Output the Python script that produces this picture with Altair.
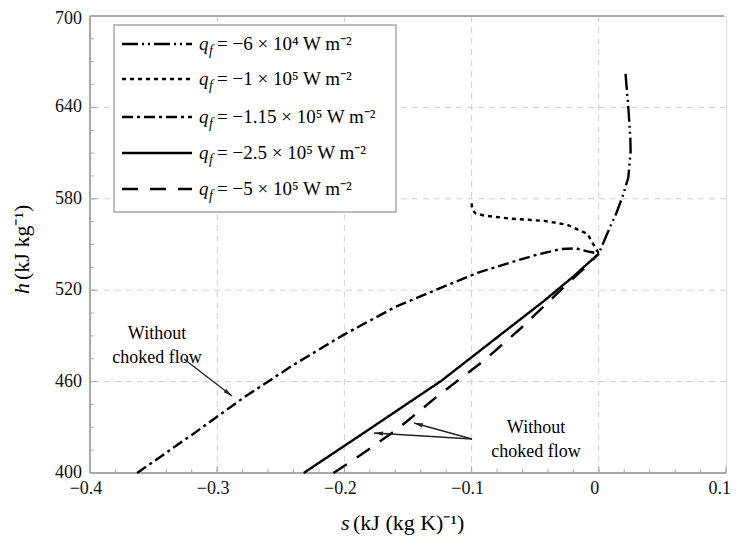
import altair as alt
import pandas as pd
import math

# ---------------- data ----------------
series_labels = ["-6e4", "-1e5", "-1.15e5", "-2.5e5", "-5e5"]

s_a = [0.021, 0.0232, 0.0248, 0.025, 0.0232, 0.0193, 0.0140, 0.0086, 0.0035, 0.0]
h_a = [662, 640, 620, 611, 594, 583, 571, 561, 551, 544]

s_b = [-0.1, -0.0995, -0.097, -0.09, -0.07, -0.043, -0.025, -0.009, 0.0]
h_b = [577, 573, 570.5, 569, 567, 565.5, 563, 557, 544]

s_c = [-0.363, -0.32, -0.28, -0.24, -0.2, -0.16, -0.12, -0.095, -0.07, -0.048, -0.03, -0.018, -0.009, 0.0]
h_c = [400, 425, 449, 471, 491, 509, 523, 531.5, 538, 543.5, 547, 547.5, 545.5, 544]

s_d = [-0.232, -0.18, -0.124, -0.08, -0.043, -0.02, -0.0094, 0.0]
h_d = [400, 429, 460.4, 489, 513, 529, 537, 544]

s_e = [-0.2086, -0.187, -0.158, -0.129, -0.09, -0.06, -0.03, -0.012, 0.0]
h_e = [400, 412, 429, 449, 474, 496, 520, 534, 544]

x_major = [-0.4, -0.3, -0.2, -0.1, 0.0, 0.1]
x_labels = ["\u22120.4", "\u22120.3", "\u22120.2", "\u22120.1", "0", "0.1"]
y_major = [400, 460, 520, 580, 640, 700]
x_minor = [round(-0.4 + 0.02 * i, 3) for i in range(26)]
y_minor = [400 + 15 * i for i in range(21)]

legend_rest = [
    "= \u22126 \u00d7 10\u2074 W m\u207b\u00b2",
    "= \u22121 \u00d7 10\u2075 W m\u207b\u00b2",
    "= \u22121.15 \u00d7 10\u2075 W m\u207b\u00b2",
    "= \u22122.5 \u00d7 10\u2075 W m\u207b\u00b2",
    "= \u22125 \u00d7 10\u2075 W m\u207b\u00b2",
]

dashes = [[16, 4, 2, 4, 2, 4], [4, 4], [11, 4, 3, 4], [1, 0], [16, 12]]

W, H = 636, 457
FONT = "Liberation Serif"

xs = alt.Scale(domain=[-0.4, 0.1], nice=False, zero=False)
ys = alt.Scale(domain=[400, 700], nice=False, zero=False)

curves = [(s_a, h_a), (s_b, h_b), (s_c, h_c), (s_d, h_d), (s_e, h_e)]

one = pd.DataFrame({"a": [0]})
layers = []

# gridlines
grid_x = pd.DataFrame({"s": [-0.3, -0.2, -0.1, 0.0]})
grid_y = pd.DataFrame({"h": [460, 520, 580, 640]})
layers.append(alt.Chart(grid_x).mark_rule(color="#d0d0d0", strokeWidth=1, strokeDash=[6, 5]).encode(
    x=alt.X("s:Q", scale=xs, axis=None)))
layers.append(alt.Chart(grid_y).mark_rule(color="#d0d0d0", strokeWidth=1, strokeDash=[6, 5]).encode(
    y=alt.Y("h:Q", scale=ys, axis=None)))

# minor / major ticks inside
layers.append(alt.Chart(pd.DataFrame({"s": x_minor})).mark_rule(color="#aaaaaa", strokeWidth=1).encode(
    x=alt.X("s:Q", scale=xs, axis=None), y=alt.value(H), y2=alt.value(H - 4)))
layers.append(alt.Chart(pd.DataFrame({"s": x_major})).mark_rule(color="#aaaaaa", strokeWidth=1).encode(
    x=alt.X("s:Q", scale=xs, axis=None), y=alt.value(H), y2=alt.value(H - 7)))
layers.append(alt.Chart(pd.DataFrame({"h": y_minor})).mark_rule(color="#aaaaaa", strokeWidth=1).encode(
    y=alt.Y("h:Q", scale=ys, axis=None), x=alt.value(0), x2=alt.value(4)))
layers.append(alt.Chart(pd.DataFrame({"h": y_major})).mark_rule(color="#aaaaaa", strokeWidth=1).encode(
    y=alt.Y("h:Q", scale=ys, axis=None), x=alt.value(0), x2=alt.value(7)))

# frame: left, bottom, top
layers.append(alt.Chart(one).mark_rule(color="#a8a8a8", strokeWidth=2).encode(
    x=alt.value(0), x2=alt.value(0), y=alt.value(0), y2=alt.value(H)))
layers.append(alt.Chart(one).mark_rule(color="#a8a8a8", strokeWidth=2).encode(
    x=alt.value(0), x2=alt.value(W), y=alt.value(H)))
layers.append(alt.Chart(one).mark_rule(color="#a8a8a8", strokeWidth=2).encode(
    x=alt.value(0), x2=alt.value(W - 2), y=alt.value(0)))

# tick labels
layers.append(alt.Chart(pd.DataFrame({"s": x_major[:-1], "lab": x_labels[:-1]})).mark_text(
    font=FONT, fontSize=18, baseline="top", color="#111", dx=-4).encode(
    x=alt.X("s:Q", scale=xs, axis=None), y=alt.value(H + 7), text="lab:N"))
layers.append(alt.Chart(pd.DataFrame({"s": x_major[-1:], "lab": x_labels[-1:]})).mark_text(
    font=FONT, fontSize=18, baseline="top", color="#111", align="right", dx=5).encode(
    x=alt.X("s:Q", scale=xs, axis=None), y=alt.value(H + 7), text="lab:N"))
layers.append(alt.Chart(pd.DataFrame({"h": y_major[:-1]})).mark_text(
    font=FONT, fontSize=18, align="right", baseline="middle", color="#111").encode(
    y=alt.Y("h:Q", scale=ys, axis=None), x=alt.value(-8), text="h:Q"))
layers.append(alt.Chart(pd.DataFrame({"h": y_major[-1:]})).mark_text(
    font=FONT, fontSize=18, align="right", baseline="middle", color="#111", dy=3).encode(
    y=alt.Y("h:Q", scale=ys, axis=None), x=alt.value(-8), text="h:Q"))

# curves
for (sv, hv), lab, dsh in zip(curves, series_labels, dashes):
    df = pd.DataFrame({"s": sv, "h": hv, "o": range(len(sv))})
    layers.append(alt.Chart(df).mark_line(color="black", strokeWidth=2.4, strokeDash=dsh, strokeCap="butt").encode(
        x=alt.X("s:Q", scale=xs, axis=None), y=alt.Y("h:Q", scale=ys, axis=None), order="o:Q"))

# legend box
lx0, ly0, lx1, ly1 = 24, 9, 306, 196
layers.append(alt.Chart(one).mark_rect(fill="white", stroke="#a8a8a8", strokeWidth=1.5).encode(
    x=alt.value(lx0), x2=alt.value(lx1), y=alt.value(ly0), y2=alt.value(ly1)))
row_y = [28, 63, 101, 137, 173]
for i in range(5):
    layers.append(alt.Chart(one).mark_rule(color="black", strokeWidth=2.4, strokeDash=dashes[i], strokeCap="butt").encode(
        x=alt.value(32), x2=alt.value(102), y=alt.value(row_y[i])))
    layers.append(alt.Chart(one).mark_text(font=FONT, fontSize=19, fontStyle="italic", align="left", baseline="middle").encode(
        x=alt.value(109), y=alt.value(row_y[i]), text=alt.value("q")))
    layers.append(alt.Chart(one).mark_text(font=FONT, fontSize=14, fontStyle="italic", align="left", baseline="middle").encode(
        x=alt.value(119), y=alt.value(row_y[i] + 7), text=alt.value("f")))
    layers.append(alt.Chart(one).mark_text(font=FONT, fontSize=19, align="left", baseline="middle").encode(
        x=alt.value(127), y=alt.value(row_y[i]), text=alt.value(legend_rest[i])))

# axis titles
layers.append(alt.Chart(one).mark_text(font=FONT, fontSize=22, fontStyle="italic", align="left", baseline="middle").encode(
    x=alt.value(251), y=alt.value(H + 50), text=alt.value("s")))
layers.append(alt.Chart(one).mark_text(font=FONT, fontSize=22, align="left", baseline="middle").encode(
    x=alt.value(263), y=alt.value(H + 50), text=alt.value("(kJ (kg K)\u207b\u00b9)")))
layers.append(alt.Chart(one).mark_text(font=FONT, fontSize=22, fontStyle="italic", align="left", baseline="middle", angle=270).encode(
    x=alt.value(-68), y=alt.value(278), text=alt.value("h")))
layers.append(alt.Chart(one).mark_text(font=FONT, fontSize=22, align="left", baseline="middle", angle=270).encode(
    x=alt.value(-68), y=alt.value(264), text=alt.value("(kJ kg\u207b\u00b9)")))

# annotations
layers.append(alt.Chart(one).mark_text(font=FONT, fontSize=18, align="center", baseline="middle", lineHeight=24,
    text=["Without", "choked flow"]).encode(x=alt.value(67), y=alt.value(318)))
layers.append(alt.Chart(one).mark_text(font=FONT, fontSize=18, align="center", baseline="middle", lineHeight=24,
    text=["Without", "choked flow"]).encode(x=alt.value(446), y=alt.value(412)))

arrows = [((94, 343), (142, 380)), ((382, 423), (324, 407)), ((382, 423), (284, 417))]
arrow_path = "M0,0L0.4,1.7L-0.4,1.7Z"
for (x0, y0), (x1, y1) in arrows:
    layers.append(alt.Chart(one).mark_rule(color="#222", strokeWidth=1.3).encode(
        x=alt.value(x0), y=alt.value(y0), x2=alt.value(x1), y2=alt.value(y1)))
    ang = math.degrees(math.atan2(x1 - x0, -(y1 - y0))) % 360
    layers.append(alt.Chart(one).mark_point(shape=arrow_path, filled=True, color="#222", size=110, angle=ang, opacity=1).encode(
        x=alt.value(x1), y=alt.value(y1)))

chart = alt.layer(*layers).properties(
    width=W, height=H,
    autosize=alt.AutoSizeParams(type="none"),
    padding={"left": 82, "top": 8, "right": 5, "bottom": 63},
).configure_view(strokeWidth=0, stroke="transparent").configure(background="white")

chart.save("out.html", embed_options={"renderer": "svg", "actions": False})
